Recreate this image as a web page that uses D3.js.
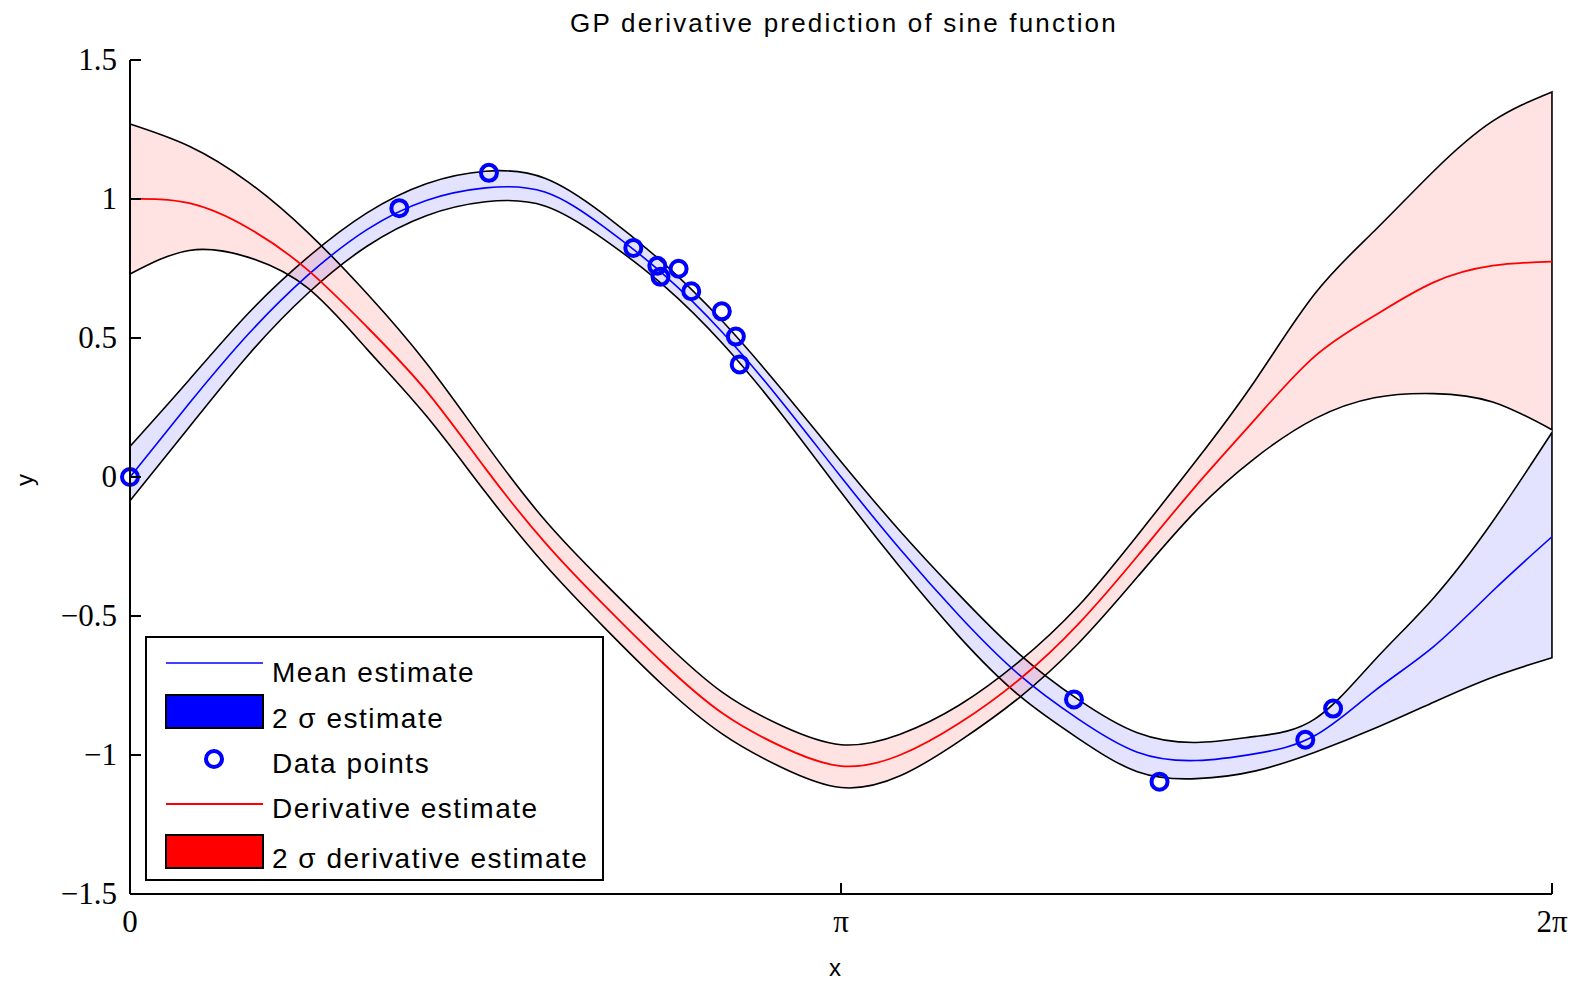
<!DOCTYPE html>
<html>
<head>
<meta charset="utf-8">
<script src="https://cdn.jsdelivr.net/npm/d3@7"></script>
<style>
  body { margin: 0; background: #fff; }
  text { fill: #000; }
</style>
</head>
<body>
<script>
// sample grid along x (0 .. 2pi)
const xGrid = [0.000, 0.262, 0.524, 0.785, 1.047, 1.309, 1.571, 1.833, 2.094, 2.356, 2.618, 2.880, 3.142,
               3.403, 3.665, 3.927, 4.189, 4.451, 4.712, 4.974, 5.236, 5.498, 5.760, 6.021, 6.283];

// GP mean estimate + 2 sigma band
const meanEst = [0.00, 0.265, 0.515, 0.725, 0.89, 0.995, 1.04, 1.025, 0.90, 0.73, 0.52, 0.27, 0.00,
                 -0.26, -0.50, -0.71, -0.87, -0.99, -1.02, -0.995, -0.93, -0.77, -0.61, -0.41, -0.215];
const meanLo = [-0.085, 0.18, 0.44, 0.66, 0.83, 0.94, 0.99, 0.975, 0.855, 0.69, 0.48, 0.225, -0.055,
                -0.325, -0.575, -0.785, -0.94, -1.06, -1.085, -1.057, -0.99, -0.905, -0.81, -0.72, -0.65];
const meanHi = [0.11, 0.35, 0.59, 0.79, 0.95, 1.055, 1.10, 1.075, 0.945, 0.77, 0.56, 0.315, 0.055,
                -0.195, -0.425, -0.635, -0.80, -0.92, -0.955, -0.933, -0.87, -0.66, -0.435, -0.16, 0.16];

// derivative estimate + 2 sigma band
const derivEst = [1.00, 0.985, 0.895, 0.745, 0.54, 0.31, 0.03, -0.235, -0.46, -0.67, -0.85, -0.97, -1.04,
                  -1.00, -0.885, -0.73, -0.53, -0.285, -0.03, 0.21, 0.435, 0.58, 0.70, 0.76, 0.775];
const derivLo = [0.73, 0.815, 0.79, 0.68, 0.46, 0.22, -0.055, -0.315, -0.54, -0.75, -0.925, -1.045, -1.117,
                 -1.075, -0.95, -0.795, -0.60, -0.36, -0.12, 0.07, 0.21, 0.285, 0.30, 0.27, 0.17];
const derivHi = [1.27, 1.19, 1.06, 0.88, 0.66, 0.41, 0.12, -0.155, -0.38, -0.59, -0.775, -0.895, -0.963,
                 -0.925, -0.82, -0.665, -0.465, -0.21, 0.06, 0.35, 0.66, 0.885, 1.10, 1.28, 1.385];

// observed data points
const ptX = [0.00, 1.19, 1.586, 2.224, 2.33, 2.344, 2.424, 2.48, 2.615, 2.677, 2.694, 4.171, 4.549, 5.193, 5.316];
const ptY = [0.00, 0.967, 1.094, 0.824, 0.76, 0.72, 0.749, 0.668, 0.596, 0.505, 0.405, -0.80, -1.096, -0.945, -0.833];

const yTicks = [-1.5, -1, -0.5, 0, 0.5, 1, 1.5];
const xTicks = [0, Math.PI, 2 * Math.PI];
const xTickLabels = ["0", "\u03c0", "2\u03c0"];

const legendItems = ["Mean estimate", "2 \u03c3 estimate", "Data points", "Derivative estimate", "2 \u03c3 derivative estimate"];

const W = 1574, H = 984;
const svg = d3.select("body").append("svg").attr("width", W).attr("height", H);

const x = d3.scaleLinear().domain([0, 2 * Math.PI]).range([130, 1552]);
const y = d3.scaleLinear().domain([-1.5, 1.5]).range([894, 60]);

const rows = xGrid.map((v, i) => ({
  x: v, m: meanEst[i], mlo: meanLo[i], mhi: meanHi[i],
  d: derivEst[i], dlo: derivLo[i], dhi: derivHi[i]
}));

const curve = d3.curveNatural;

// bands
const meanArea = d3.area().x(d => x(d.x)).y0(d => y(d.mlo)).y1(d => y(d.mhi)).curve(curve);
const derivArea = d3.area().x(d => x(d.x)).y0(d => y(d.dlo)).y1(d => y(d.dhi)).curve(curve);

svg.append("path").datum(rows).attr("d", meanArea)
  .attr("fill", "#0000ff").attr("fill-opacity", 0.11)
  .attr("stroke", "#000").attr("stroke-width", 1.6);
svg.append("path").datum(rows).attr("d", derivArea)
  .attr("fill", "#ff0000").attr("fill-opacity", 0.11)
  .attr("stroke", "#000").attr("stroke-width", 1.6);

// lines
svg.append("path").datum(rows)
  .attr("d", d3.line().x(d => x(d.x)).y(d => y(d.m)).curve(curve))
  .attr("fill", "none").attr("stroke", "#0000ff").attr("stroke-width", 1.6);
svg.append("path").datum(rows)
  .attr("d", d3.line().x(d => x(d.x)).y(d => y(d.d)).curve(curve))
  .attr("fill", "none").attr("stroke", "#ff0000").attr("stroke-width", 1.8);

// points
svg.append("g").selectAll("circle").data(ptX).join("circle")
  .attr("cx", d => x(d)).attr("cy", (d, i) => y(ptY[i])).attr("r", 8)
  .attr("fill", "none").attr("stroke", "#0000ff").attr("stroke-width", 4);

// axes (matlab style: left + bottom, inward ticks)
const axisG = svg.append("g").attr("stroke", "#000").attr("stroke-width", 2);
axisG.append("line").attr("x1", x(0)).attr("x2", x(0)).attr("y1", y(1.5)).attr("y2", y(-1.5));
axisG.append("line").attr("x1", x(0)).attr("x2", x(2 * Math.PI)).attr("y1", y(-1.5)).attr("y2", y(-1.5));
axisG.selectAll(".yt").data(yTicks).join("line")
  .attr("x1", x(0)).attr("x2", x(0) + 11).attr("y1", d => y(d)).attr("y2", d => y(d));
axisG.selectAll(".xt").data(xTicks).join("line")
  .attr("x1", d => x(d)).attr("x2", d => x(d)).attr("y1", y(-1.5)).attr("y2", y(-1.5) - 11);

const serif = "'Liberation Serif', 'Times New Roman', serif";
const sans = "'Liberation Sans', Arial, sans-serif";

svg.append("g").selectAll("text").data(yTicks).join("text")
  .attr("x", x(0) - 13).attr("y", d => y(d) + 10)
  .attr("text-anchor", "end").attr("font-family", serif).attr("font-size", 31)
  .text(d => d < 0 ? "\u2212" + Math.abs(d) : d);

svg.append("g").selectAll("text").data(xTicks).join("text")
  .attr("x", d => x(d)).attr("y", y(-1.5) + 38)
  .attr("text-anchor", "middle").attr("font-family", serif).attr("font-size", 31)
  .text((d, i) => xTickLabels[i]);

// title and axis labels
svg.append("text").attr("x", 844).attr("y", 32).attr("text-anchor", "middle")
  .attr("font-family", sans).attr("font-size", 26).attr("letter-spacing", 2.2)
  .text("GP derivative prediction of sine function");
svg.append("text").attr("x", 835).attr("y", 976).attr("text-anchor", "middle")
  .attr("font-family", sans).attr("font-size", 24).text("x");
svg.append("text").attr("transform", "translate(33,480) rotate(-90)").attr("text-anchor", "middle")
  .attr("font-family", sans).attr("font-size", 24).text("y");

// legend
const lg = svg.append("g");
lg.append("rect").attr("x", 146).attr("y", 637).attr("width", 457).attr("height", 243)
  .attr("fill", "#fff").attr("stroke", "#000").attr("stroke-width", 2);
const rowY = [663, 712, 759, 804, 852];
const baseY = [682, 728, 773, 818, 868];
lg.append("line").attr("x1", 166).attr("x2", 263).attr("y1", rowY[0]).attr("y2", rowY[0])
  .attr("stroke", "#0000ff").attr("stroke-width", 1.6);
lg.append("rect").attr("x", 166).attr("y", 695).attr("width", 97).attr("height", 33)
  .attr("fill", "#0000ff").attr("stroke", "#000").attr("stroke-width", 2);
lg.append("circle").attr("cx", 214).attr("cy", rowY[2]).attr("r", 8)
  .attr("fill", "none").attr("stroke", "#0000ff").attr("stroke-width", 4);
lg.append("line").attr("x1", 166).attr("x2", 263).attr("y1", rowY[3]).attr("y2", rowY[3])
  .attr("stroke", "#ff0000").attr("stroke-width", 1.8);
lg.append("rect").attr("x", 166).attr("y", 835).attr("width", 97).attr("height", 33)
  .attr("fill", "#ff0000").attr("stroke", "#000").attr("stroke-width", 2);
lg.selectAll("text").data(legendItems).join("text")
  .attr("x", 272).attr("y", (d, i) => baseY[i])
  .attr("font-family", sans).attr("font-size", 28).attr("letter-spacing", 1.5)
  .text(d => d);
</script>
</body>
</html>
